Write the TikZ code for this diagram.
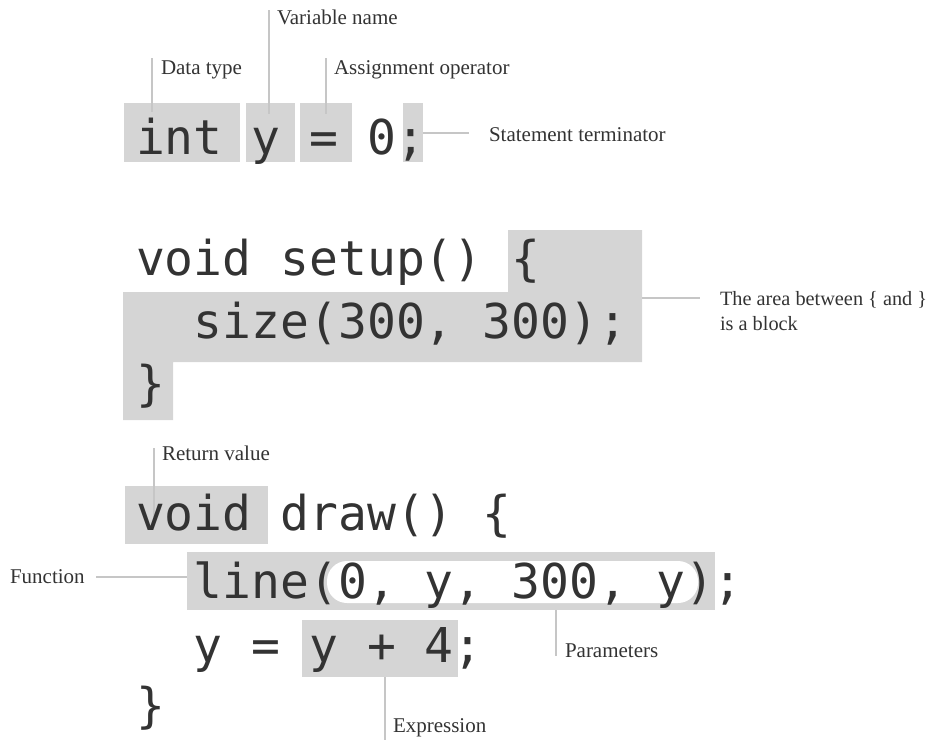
\documentclass[tikz,border=0pt]{standalone}
\usepackage{fontspec}
\setmainfont{Liberation Serif}
\newfontfamily\codefont{DejaVu Sans Mono}
\definecolor{boxgray}{HTML}{D5D5D5}
\definecolor{leadgray}{HTML}{C6C6C6}
\definecolor{ink}{HTML}{333333}
\tikzset{
  codetext/.style={anchor=base west, inner sep=0pt, outer sep=0pt, text=ink,
    font=\codefont\fontsize{48}{58}\selectfont},
  lbl/.style={anchor=base west, inner sep=0pt, outer sep=0pt, text=ink,
    font=\fontsize{21}{24}\selectfont},
  leader/.style={draw=leadgray, line width=2pt},
  hl/.style={fill=boxgray},
}
\begin{document}
\begin{tikzpicture}[x=1pt,y=-1pt]
\useasboundingbox (0,0) rectangle (932,740);
% highlight boxes, statement
\fill[hl] (124,103) rectangle (240,162);
\fill[hl] (246,103) rectangle (295,162);
\fill[hl] (300,103) rectangle (352,162);
\fill[hl] (403,103) rectangle (423,162);
% block
\fill[hl] (508,230) -- (642,230) -- (642,362) -- (173,362) -- (173,420)
  -- (123,420) -- (123,292) -- (508,292) -- cycle;
% draw()
\fill[hl] (125,486) rectangle (268,544);
\fill[hl] (187,552) rectangle (715,610);
\fill[white, rounded corners=20pt] (327,561) rectangle (698,603);
\fill[hl] (302,620) rectangle (458,677);

% labels
\node[lbl] (dt) at (161,74) {Data type};
\node[lbl] (vn) at (277,24) {Variable name};
\node[lbl] (ao) at (334,74) {Assignment operator};
\node[lbl] (st) at (489,141) {Statement terminator};
\node[lbl, font=\fontsize{20.3}{24}\selectfont] (blk) at (720,305) {The area between \{ and \}};
\node[lbl, font=\fontsize{20.3}{24}\selectfont] (blkb) at (720,330) {is a block};
\node[lbl] (rv) at (162,460) {Return value};
\node[lbl] (fn) at (10,583) {Function};
\node[lbl] (pm) at (565,657) {Parameters};
\node[lbl] (ex) at (393,732) {Expression};

% leader end points
\coordinate (dtA) at (152,58);  \coordinate (dtB) at (152,112);
\coordinate (vnA) at (269,10);  \coordinate (vnB) at (269,114);
\coordinate (aoA) at (326,58);  \coordinate (aoB) at (326,114);
\coordinate (stA) at (423,133); \coordinate (stB) at (469,133);
\coordinate (bkA) at (642,298); \coordinate (bkB) at (700,298);
\coordinate (rvA) at (154,448); \coordinate (rvB) at (154,517);
\coordinate (fnA) at (96,577);  \coordinate (fnB) at (187,577);
\coordinate (pmA) at (556,610); \coordinate (pmB) at (556,656);
\coordinate (exA) at (385,677); \coordinate (exB) at (385,740);
\foreach \a/\b in {dtA/dtB,vnA/vnB,aoA/aoB,stA/stB,bkA/bkB,rvA/rvB,fnA/fnB,pmA/pmB,exA/exB}
  \draw[leader] (\a) -- (\b);

% code
\node[codetext] (l1) at (136,154) {int y = 0;};
\node[codetext] (l2) at (136,275) {void setup() \{};
\node[codetext] (l3) at (193.8,338) {size(300, 300);};
\node[codetext] (l4) at (136,400) {\}};
\node[codetext] (l5) at (136,530) {void draw() \{};
\node[codetext] (l6) at (193.8,598) {line(0, y, 300, y);};
\node[codetext] (l7) at (193.8,662) {y = y + 4;};
\node[codetext] (l8) at (136,722) {\}};
\end{tikzpicture}
\end{document}
